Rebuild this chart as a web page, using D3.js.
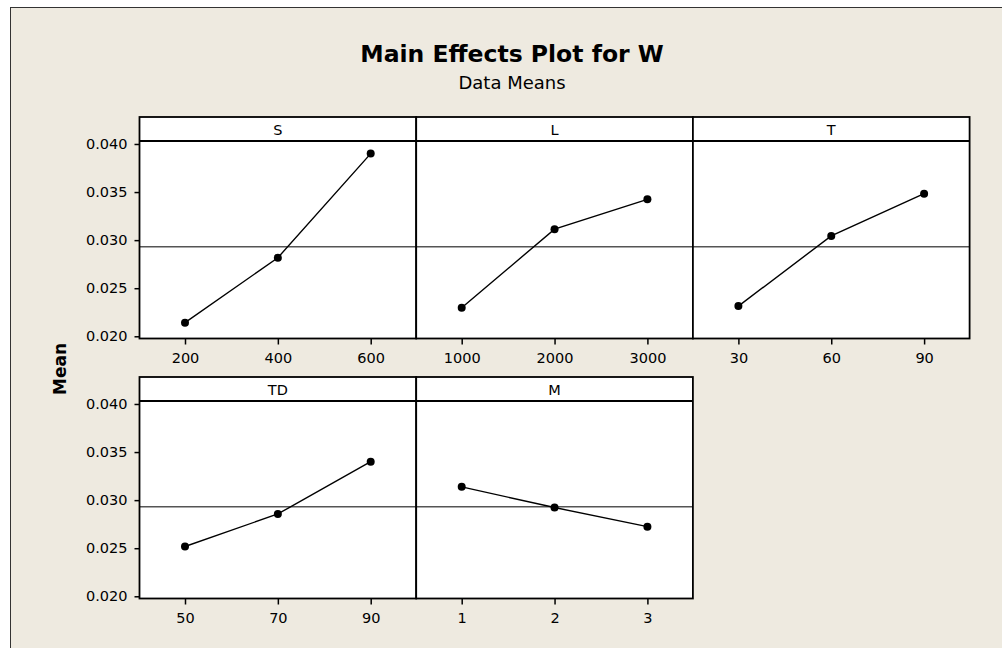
<!DOCTYPE html>
<html>
<head>
    <meta charset="utf-8">
    <style>
        body { margin: 0; background: #fff; }
        text { font-family: "DejaVu Sans", Verdana, sans-serif; fill: #000; }
    </style>
</head>
<body>
    <script src="https://cdn.jsdelivr.net/npm/d3@7"></script>
    <script>
        // factor names and levels
        var factorNames = ["S", "L", "T", "TD", "M"];
        var sLevels = ["200", "400", "600"];
        var lLevels = ["1000", "2000", "3000"];
        var tLevels = ["30", "60", "90"];
        var tdLevels = ["50", "70", "90"];
        var mLevels = ["1", "2", "3"];

        // data means for each level
        var sMeans = [0.02142, 0.02817, 0.03900];
        var lMeans = [0.02297, 0.03114, 0.03424];
        var tMeans = [0.02314, 0.03044, 0.03483];
        var tdMeans = [0.02518, 0.02856, 0.03400];
        var mMeans = [0.03138, 0.02923, 0.02724];

        var grandMean = 0.0293;
        var yTicks = [0.020, 0.025, 0.030, 0.035, 0.040];

        var panels = [
            { name: factorNames[0], levels: sLevels, means: sMeans },
            { name: factorNames[1], levels: lLevels, means: lMeans },
            { name: factorNames[2], levels: tLevels, means: tMeans },
            { name: factorNames[3], levels: tdLevels, means: tdMeans },
            { name: factorNames[4], levels: mLevels, means: mMeans }
        ];

        var width = 1002, height = 648;
        var left0 = 139.5, top0 = 117;
        var panelWidth = 276.7, stripHeight = 24, plotHeight = 197.5;
        var rowStep = 260, perRow = 3;

        var svg = d3.select('body')
            .append('svg')
            .attr('width', width)
            .attr('height', height);

        // beige background with frame on top and left
        svg.append('rect')
            .attr('x', 10.5).attr('y', 7.5)
            .attr('width', width).attr('height', height)
            .attr('fill', '#EEEAE0')
            .attr('stroke', '#333')
            .attr('stroke-width', 1);

        svg.append('text')
            .attr('x', 512).attr('y', 62)
            .attr('text-anchor', 'middle')
            .style('font-size', '23.5px')
            .style('font-weight', 'bold')
            .text('Main Effects Plot for W');

        svg.append('text')
            .attr('x', 512).attr('y', 89)
            .attr('text-anchor', 'middle')
            .style('font-size', '18px')
            .text('Data Means');

        svg.append('text')
            .attr('transform', 'translate(66,369) rotate(-90)')
            .attr('text-anchor', 'middle')
            .style('font-size', '17px')
            .style('font-weight', 'bold')
            .text('Mean');

        var y = d3.scaleLinear()
            .domain([0.01977, 0.04031])
            .range([plotHeight, 0]);

        panels.forEach(function (p, i) {
            var col = i % perRow, row = Math.floor(i / perRow);
            var gx = left0 + col * panelWidth;
            var gy = top0 + row * rowStep;

            var x = d3.scalePoint()
                .domain(p.levels)
                .range([0, panelWidth])
                .padding(0.49);

            var g = svg.append('g')
                .attr('transform', 'translate(' + gx + ',' + gy + ')');

            // strip
            g.append('rect')
                .attr('width', panelWidth).attr('height', stripHeight)
                .attr('fill', '#fff');
            g.append('text')
                .attr('x', panelWidth / 2).attr('y', stripHeight - 6)
                .attr('text-anchor', 'middle')
                .style('font-size', '14.5px')
                .text(p.name);

            var plot = g.append('g')
                .attr('transform', 'translate(0,' + stripHeight + ')');

            plot.append('rect')
                .attr('width', panelWidth).attr('height', plotHeight)
                .attr('fill', '#fff');

            // grand mean reference line
            plot.append('line')
                .attr('x1', 0).attr('x2', panelWidth)
                .attr('y1', y(grandMean)).attr('y2', y(grandMean))
                .attr('stroke', '#555')
                .attr('stroke-width', 1.5);

            var line = d3.line()
                .x(function (d, k) { return x(p.levels[k]); })
                .y(function (d) { return y(d); });

            plot.append('path')
                .datum(p.means)
                .attr('d', line)
                .attr('fill', 'none')
                .attr('stroke', '#000')
                .attr('stroke-width', 1.4);

            plot.selectAll('circle')
                .data(p.means)
                .enter()
                .append('circle')
                .attr('cx', function (d, k) { return x(p.levels[k]); })
                .attr('cy', function (d) { return y(d); })
                .attr('r', 4)
                .attr('fill', '#000');

            // x axis
            var xAxisNodes = plot.append('g')
                .attr('transform', 'translate(0,' + plotHeight + ')')
                .call(d3.axisBottom(x).tickSize(6).tickPadding(8));
            styleAxisNodes(xAxisNodes);

            if (col === 0) {
                var yAxisNodes = plot.append('g')
                    .call(d3.axisLeft(y).tickValues(yTicks).tickFormat(d3.format('.3f')).tickSize(5).tickPadding(7));
                styleAxisNodes(yAxisNodes);
            }

            // borders
            g.append('rect')
                .attr('width', panelWidth).attr('height', stripHeight + plotHeight)
                .attr('fill', 'none')
                .attr('stroke', '#000')
                .attr('stroke-width', 1.8);
            g.append('line')
                .attr('x1', 0).attr('x2', panelWidth)
                .attr('y1', stripHeight).attr('y2', stripHeight)
                .attr('stroke', '#000')
                .attr('stroke-width', 1.8);
        });

        function styleAxisNodes(axisNodes) {
            axisNodes.select('.domain').remove();
            axisNodes.selectAll('.tick line')
                .attr('stroke', '#000')
                .attr('stroke-width', 1.5);
            axisNodes.selectAll('.tick text')
                .style('font-family', '"DejaVu Sans", Verdana, sans-serif')
                .style('font-size', '14.5px')
                .attr('fill', '#000');
        }
    </script>
</body>
</html>
